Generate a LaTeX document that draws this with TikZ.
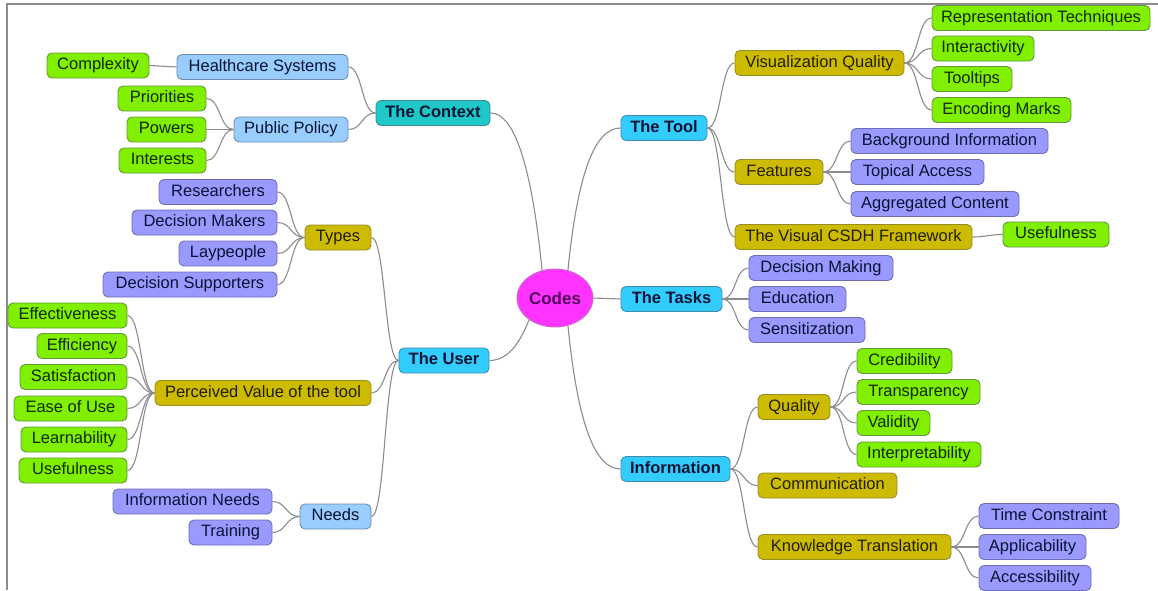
\documentclass[tikz,border=0pt]{standalone}
\usepackage{fontspec}
\setmainfont{Liberation Sans}
\usetikzlibrary{shapes.geometric,calc}
\definecolor{grF}{RGB}{128,240,0}
\definecolor{grD}{RGB}{100,150,60}
\definecolor{grT}{RGB}{15,40,5}
\definecolor{lbF}{RGB}{153,204,255}
\definecolor{lbD}{RGB}{110,140,170}
\definecolor{tlF}{RGB}{30,200,200}
\definecolor{tlD}{RGB}{60,140,140}
\definecolor{cyF}{RGB}{51,204,255}
\definecolor{cyD}{RGB}{60,140,170}
\definecolor{olF}{RGB}{204,187,0}
\definecolor{olD}{RGB}{150,140,40}
\definecolor{puF}{RGB}{153,153,255}
\definecolor{puD}{RGB}{110,110,180}
\definecolor{mgF}{RGB}{255,51,255}
\definecolor{mgD}{RGB}{200,110,200}
\definecolor{mgT}{RGB}{80,0,90}
\definecolor{txD}{RGB}{10,20,50}
\definecolor{olT}{RGB}{35,30,0}
\definecolor{lnC}{RGB}{140,140,140}
\definecolor{frC}{RGB}{140,140,140}
\begin{document}
\begin{tikzpicture}[x=1pt,y=-1pt,
  box/.style={draw, line width=0.9pt, rounded corners=5pt, minimum height=25pt,
    inner xsep=3pt, inner ysep=0pt, text height=11.8pt, text depth=3.6pt,
    font=\fontsize{16.5}{19}\selectfont, text=txD},
  gr/.style={box, fill=grF, draw=grD, text=grT},
  lb/.style={box, fill=lbF, draw=lbD},
  tl/.style={box, fill=tlF, draw=tlD, font=\fontsize{16.5}{19}\selectfont\bfseries},
  cy/.style={box, fill=cyF, draw=cyD, font=\fontsize{16.5}{19}\selectfont\bfseries},
  ol/.style={box, fill=olF, draw=olD, text=olT},
  pu/.style={box, fill=puF, draw=puD},
  conn/.style={draw=lnC, line width=1.1pt},
  sc/.style={to path={.. controls ([xshift=#1]\tikztostart) and ([xshift=-#1]\tikztotarget) .. (\tikztotarget)}},
  sc/.default=14
]
\useasboundingbox (0,0) rectangle (1158,590);
\draw[frC, line width=1.5pt] (6,4) -- (1158,4);
\draw[frC, line width=2pt] (7,4) -- (7,590);

% root
\node[ellipse, draw=mgD, line width=0.9pt, fill=mgF, minimum width=76pt, minimum height=58pt, inner sep=0pt,
  font=\fontsize{17}{19}\selectfont\bfseries, text=mgT] (codes) at (555,298) {Codes};

% left: context
\node[gr, minimum width=102] (cx) at (98,65.5) {Complexity};
\node[lb, minimum width=171] (hs) at (262.5,67) {Healthcare Systems};
\node[gr, minimum width=88] (pri) at (162,98.5) {Priorities};
\node[gr, minimum width=79] (pow) at (166.5,129.5) {Powers};
\node[gr, minimum width=87] (int) at (162.5,160.5) {Interests};
\node[lb, minimum width=114] (pp) at (291,129.5) {Public Policy};
\node[tl, minimum width=114] (ctx) at (433,113) {The Context};

% left: user
\node[pu, minimum width=118] (res) at (218,192) {Researchers};
\node[pu, minimum width=145] (dm) at (204.5,222.5) {Decision Makers};
\node[pu, minimum width=98] (lay) at (228,253.5) {Laypeople};
\node[pu, minimum width=174] (ds) at (190,284.5) {Decision Supporters};
\node[ol, minimum width=66] (types) at (338,237.5) {Types};
\node[gr, minimum width=119] (eff) at (67.5,315.5) {Effectiveness};
\node[gr, minimum width=90] (effi) at (82,346) {Efficiency};
\node[gr, minimum width=107] (sat) at (73.5,377) {Satisfaction};
\node[gr, minimum width=113] (ease) at (70.5,408.5) {Ease of Use};
\node[gr, minimum width=106] (learn) at (74,439.5) {Learnability};
\node[gr, minimum width=108] (usel) at (73,470.5) {Usefulness};
\node[ol, minimum width=216] (pv) at (263,393) {Perceived Value of the tool};
\node[cy, minimum width=90] (user) at (444,360.5) {The User};
\node[pu, minimum width=159] (inn) at (192.5,501.5) {Information Needs};
\node[pu, minimum width=83] (tr) at (230.5,532.5) {Training};
\node[lb, minimum width=71] (needs) at (335.5,516.5) {Needs};

% right: tool
\node[cy, minimum width=86] (tool) at (664,128) {The Tool};
\node[ol, minimum width=169] (vq) at (819.5,63) {Visualization Quality};
\node[gr, minimum width=218] (rt) at (1041,18) {Representation Techniques};
\node[gr, minimum width=102] (ia) at (983,48.5) {Interactivity};
\node[gr, minimum width=80] (tt) at (972,79) {Tooltips};
\node[gr, minimum width=139] (em) at (1001.5,110) {Encoding Marks};
\node[ol, minimum width=88] (feat) at (779,172) {Features};
\node[pu, minimum width=197] (bi) at (949.5,141) {Background Information};
\node[pu, minimum width=133] (ta) at (917.5,172) {Topical Access};
\node[pu, minimum width=168] (ac) at (935,204) {Aggregated Content};
\node[ol, minimum width=237] (vf) at (853.5,237) {The Visual CSDH Framework};
\node[gr, minimum width=106] (use2) at (1056,234.5) {Usefulness};

% right: tasks
\node[cy, minimum width=101] (tasks) at (671.5,299) {The Tasks};
\node[pu, minimum width=144] (dmk) at (821,268) {Decision Making};
\node[pu, minimum width=97] (edu) at (797.5,299) {Education};
\node[pu, minimum width=116] (sen) at (807,330) {Sensitization};

% right: information
\node[cy, minimum width=109] (info) at (675.5,469) {Information};
\node[ol, minimum width=72] (qual) at (794,407) {Quality};
\node[gr, minimum width=95] (cred) at (904.5,361) {Credibility};
\node[gr, minimum width=123] (tra) at (918.5,392) {Transparency};
\node[gr, minimum width=73] (val) at (893.5,423) {Validity};
\node[gr, minimum width=124] (interp) at (919,454.5) {Interpretability};
\node[ol, minimum width=139] (comm) at (827.5,485.5) {Communication};
\node[ol, minimum width=193] (kt) at (854.5,547) {Knowledge Translation};
\node[pu, minimum width=140] (tc) at (1049,516) {Time Constraint};
\node[pu, minimum width=107] (app) at (1032.5,547) {Applicability};
\node[pu, minimum width=112] (acc) at (1035,578) {Accessibility};

% left connectors (child.east -> parent.west)
\foreach \c/\p in {cx/hs, hs/ctx, pri/pp, pow/pp, int/pp, pp/ctx,
  res/types, dm/types, lay/types, ds/types, types/user,
  eff/pv, effi/pv, sat/pv, ease/pv, learn/pv, usel/pv, pv/user,
  inn/needs, tr/needs, needs/user}
  \draw[conn] (\c.east) to[sc] (\p.west);
% right connectors (parent.east -> child.west)
\foreach \p/\c in {tool/vq, tool/feat, tool/vf, vq/rt, vq/ia, vq/tt, vq/em,
  feat/bi, feat/ta, feat/ac, vf/use2, tasks/dmk, tasks/edu, tasks/sen,
  info/qual, info/comm, info/kt, qual/cred, qual/tra, qual/val, qual/interp,
  kt/tc, kt/app, kt/acc}
  \draw[conn] (\p.east) to[sc] (\c.west);

% root connectors
\draw[conn] (ctx.east) .. controls +(25,0) and +(-10,-100) .. (codes.115);
\draw[conn] (codes.65) .. controls +(10,-100) and +(-25,0) .. (tool.west);
\draw[conn] (codes.east) -- (tasks.west);
\draw[conn] (codes.-65) .. controls +(10,100) and +(-25,0) .. (info.west);
\draw[conn] (user.east) .. controls +(20,0) and +(-8,20) .. (codes.-140);
\end{tikzpicture}
\end{document}
